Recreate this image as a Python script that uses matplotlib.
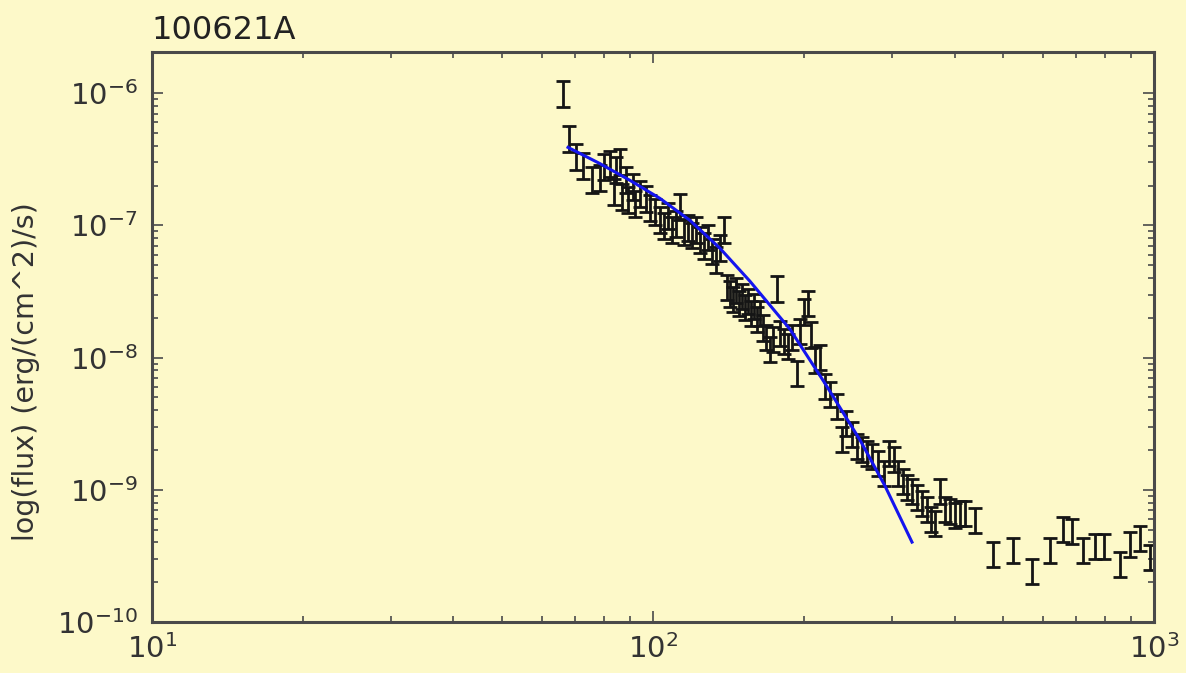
import matplotlib
matplotlib.use("Agg")

import matplotlib.pyplot as plt
import numpy as np

# light curve of GRB 100621A as log10 values
log_time = [
    1.820, 1.832, 1.846, 1.860, 1.878, 1.894, 1.902, 1.914, 1.922, 1.926,
    1.934, 1.938, 1.946, 1.950, 1.960, 1.964, 1.974, 1.986, 1.994, 2.004,
    2.014, 2.022, 2.030, 2.038, 2.046, 2.054, 2.062, 2.070, 2.078, 2.086,
    2.094, 2.102, 2.110, 2.118, 2.126, 2.134, 2.142, 2.148, 2.154, 2.160,
    2.166, 2.172, 2.178, 2.184, 2.190, 2.196, 2.202, 2.208, 2.214, 2.220,
    2.226, 2.234, 2.240, 2.248, 2.254, 2.262, 2.270, 2.277, 2.287, 2.293,
    2.301, 2.309, 2.315, 2.323, 2.333, 2.343, 2.353, 2.367, 2.377, 2.385,
    2.397, 2.407, 2.417, 2.427, 2.437, 2.449, 2.461, 2.471, 2.481, 2.489,
    2.499, 2.507, 2.517, 2.527, 2.537, 2.547, 2.555, 2.563, 2.573, 2.583,
    2.593, 2.603, 2.613, 2.623, 2.643, 2.679, 2.719, 2.757, 2.792, 2.818,
    2.836, 2.858, 2.882, 2.900, 2.932, 2.952, 2.972, 2.992,
]
log_flux = [
    -5.994, -6.334, -6.470, -6.538, -6.644, -6.629, -6.546, -6.523, -6.735, -6.568,
    -6.508, -6.773, -6.644, -6.795, -6.697, -6.825, -6.750, -6.788, -6.856, -6.886,
    -6.946, -6.992, -6.916, -7.022, -6.977, -6.848, -7.037, -7.007, -7.067, -7.022,
    -7.098, -7.143, -7.082, -7.188, -7.249, -7.158, -7.022, -7.460, -7.506, -7.551,
    -7.483, -7.581, -7.528, -7.611, -7.566, -7.657, -7.604, -7.702, -7.657, -7.763,
    -7.838, -7.929, -7.853, -7.468, -7.808, -7.868, -7.906, -7.838, -8.110, -7.793,
    -7.642, -7.581, -7.816, -8.005, -7.989, -8.209, -8.269, -8.360, -8.609, -8.488,
    -8.571, -8.662, -8.685, -8.715, -8.738, -8.791, -8.866, -8.715, -8.760, -8.866,
    -8.927, -8.972, -9.002, -9.048, -9.093, -9.138, -9.214, -9.244, -9.002, -9.138,
    -9.153, -9.184, -9.169, -9.169, -9.221, -9.478, -9.448, -9.607, -9.448, -9.289,
    -9.305, -9.448, -9.418, -9.418, -9.554, -9.403, -9.358, -9.501,
]
flux_rel_err = 0.22

# fitted model, vertices
fit_time = [67.7, 78.3, 90.0, 103.3, 118.6, 136.1, 156.2, 187.7, 220.4, 259.0,
            290.5, 328.9]
fit_flux = [3.89e-7, 2.94e-7, 2.19e-7, 1.60e-7, 1.09e-7, 6.71e-8, 3.78e-8,
            1.64e-8, 6.40e-9, 2.38e-9, 1.07e-9, 4.02e-10]

bg = "#fdf9c9"
dark = "#4a4a4a"

time = 10.0 ** np.array(log_time)
flux = 10.0 ** np.array(log_flux)

fig = plt.figure(figsize=(11.86, 6.73), dpi=100, facecolor=bg)
ax = fig.add_axes([0.128, 0.0758, 0.845, 0.847], facecolor=bg)

ax.errorbar(time, flux, yerr=flux * flux_rel_err, fmt="none", ecolor="#151515",
            elinewidth=2, capsize=5, capthick=2)
ax.plot(fit_time, fit_flux, color="#1515ee", lw=2.2, solid_joinstyle="round")

ax.set_xscale("log")
ax.set_yscale("log")
ax.set_xlim(10, 1000)
ax.set_ylim(1e-10, 2.05e-6)

ax.set_title("100621A", loc="left", fontsize=23, color="#222222", pad=9)
ax.set_ylabel("log(flux) (erg/(cm^2)/s)", fontsize=20.5, color="#333333")
ax.yaxis.set_label_coords(-0.112, 0.44)

for s in ax.spines.values():
    s.set_color(dark)
    s.set_linewidth(2.2)
ax.tick_params(which="both", direction="in", top=True, right=True, colors=dark,
               width=1.2, labelcolor="#333333")
ax.tick_params(which="major", length=8, labelsize=21)
ax.tick_params(which="minor", length=4)
ax.tick_params(axis="y", which="major", pad=10)
ax.tick_params(axis="x", which="major", pad=9)

fig.savefig("out.png", dpi=100, facecolor=bg)
